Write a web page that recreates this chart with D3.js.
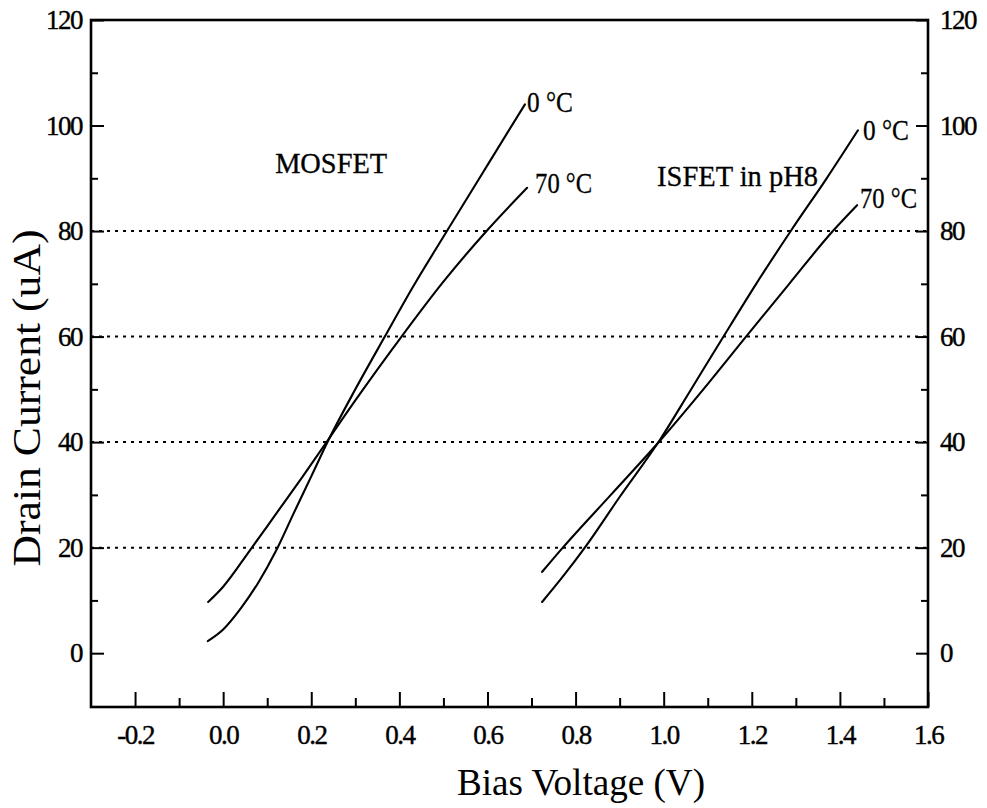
<!DOCTYPE html>
<html>
<head>
<meta charset="utf-8">
<script src="https://cdn.jsdelivr.net/npm/d3@7"></script>
<style>
  html, body { margin: 0; padding: 0; background: #fff; }
  svg { display: block; }
  text { font-family: "Liberation Serif", "Times New Roman", serif; fill: #000; }
</style>
</head>
<body>
<svg id="chart" width="987" height="808"></svg>
<script>
// Drain current (uA) versus bias voltage (V) at two temperatures
const mosfet0 = [
  [-0.035, 2.3], [0.0, 4.5], [0.04, 8.5], [0.08, 13.4], [0.12, 19.4],
  [0.16, 26.5], [0.2, 33.5], [0.238, 40.2], [0.3, 50], [0.367, 60],
  [0.43, 69.3], [0.508, 80], [0.6, 92.5], [0.685, 104]
];
const mosfet70 = [
  [-0.034, 9.7], [0.0, 12.6], [0.06, 19.4], [0.12, 26.4], [0.18, 33.4],
  [0.238, 40.4], [0.3, 47.9], [0.405, 60], [0.5, 70.4], [0.6, 80.2], [0.69, 88.2]
];
const isfet0 = [
  [0.724, 9.7], [0.77, 14.4], [0.821, 20], [0.9, 29.6], [0.992, 40.5],
  [1.06, 49.7], [1.132, 59.5], [1.21, 70], [1.29, 80.2], [1.37, 90], [1.441, 99.1]
];
const isfet70 = [
  [0.724, 15.4], [0.771, 20], [0.88, 30], [0.992, 40.3], [1.09, 50],
  [1.187, 60], [1.285, 70], [1.384, 80], [1.439, 84.9]
];

const xTicks = [-0.2, 0.0, 0.2, 0.4, 0.6, 0.8, 1.0, 1.2, 1.4, 1.6];
const xMinorTicks = [-0.1, 0.1, 0.3, 0.5, 0.7, 0.9, 1.1, 1.3, 1.5];
const yTicks = [0, 20, 40, 60, 80, 100, 120];
const yMinorTicks = [10, 30, 50, 70, 90, 110];
const gridValues = [20, 40, 60, 80];

const curveLabels = [
  { text: "0 \u00B0C", at: [0.685, 104], dx: 2, dy: 8, len: 46 },
  { text: "70 \u00B0C", at: [0.69, 88.2], dx: 8, dy: 5, len: 57 },
  { text: "0 \u00B0C", at: [1.441, 99.1], dx: 5, dy: 10, len: 46 },
  { text: "70 \u00B0C", at: [1.439, 84.9], dx: 3, dy: 3, len: 57 }
];
const groupLabels = [
  { text: "MOSFET", at: [0.118, 91.0], len: 112 },
  { text: "ISFET in pH8", at: [0.985, 88.5], len: 161 }
];

const svg = d3.select("#chart");
const margin = { left: 91, top: 20, right: 59, bottom: 101 };
const W = 987 - margin.left - margin.right;
const H = 808 - margin.top - margin.bottom;

const x = d3.scaleLinear().domain([-0.3, 1.6]).range([0, W]);
const y = d3.scaleLinear().domain([-10.2, 120]).range([H, 0]);

const g = svg.append("g").attr("transform", `translate(${margin.left},${margin.top})`);

// dotted horizontal reference lines
g.append("g").selectAll("line").data(gridValues).join("line")
  .attr("x1", 0).attr("x2", W)
  .attr("y1", d => y(d)).attr("y2", d => y(d))
  .attr("stroke", "#000").attr("stroke-width", 2)
  .attr("stroke-dasharray", "3,5");

// plain hyphen for negative values
const fmtX = d => d3.format(".1f")(d).replace("\u2212", "-");

function styleAxis(sel) {
  sel.select(".domain").remove();
  sel.selectAll(".tick line").attr("stroke", "#000").attr("stroke-width", 2);
  sel.selectAll(".tick text")
    .attr("font-size", 27)
    .attr("letter-spacing", "-1.5px")
    .attr("stroke", "#000")
    .attr("stroke-width", 0.4)
    .attr("fill", "#000");
}

// bottom axis: major ticks with labels, minor ticks without
g.append("g").attr("transform", `translate(0,${H})`)
  .call(d3.axisBottom(x).tickValues(xTicks).tickFormat(fmtX).tickSize(-15).tickPadding(18))
  .call(styleAxis);
g.append("g").attr("transform", `translate(0,${H})`)
  .call(d3.axisBottom(x).tickValues(xMinorTicks).tickFormat("").tickSize(-9))
  .call(styleAxis);

// left axis
g.append("g")
  .call(d3.axisLeft(y).tickValues(yTicks).tickSize(-13).tickPadding(9))
  .call(styleAxis);
g.append("g")
  .call(d3.axisLeft(y).tickValues(yMinorTicks).tickFormat("").tickSize(-7))
  .call(styleAxis);

// right axis
g.append("g").attr("transform", `translate(${W},0)`)
  .call(d3.axisRight(y).tickValues(yTicks).tickSize(-12).tickPadding(12))
  .call(styleAxis);
g.append("g").attr("transform", `translate(${W},0)`)
  .call(d3.axisRight(y).tickValues(yMinorTicks).tickFormat("").tickSize(-7))
  .call(styleAxis);

// plot frame
g.append("rect")
  .attr("x", 0).attr("y", 0).attr("width", W).attr("height", H)
  .attr("fill", "none").attr("stroke", "#000").attr("stroke-width", 2.6);

// curves
const line = d3.line()
  .x(d => x(d[0])).y(d => y(d[1]))
  .curve(d3.curveMonotoneX);

[mosfet0, mosfet70, isfet0, isfet70].forEach(series => {
  g.append("path").datum(series)
    .attr("d", line)
    .attr("fill", "none")
    .attr("stroke", "#000")
    .attr("stroke-width", 2.1)
    .attr("stroke-linecap", "round");
});

// temperature labels at the curve ends
g.append("g").selectAll("text").data(curveLabels).join("text")
  .attr("x", d => x(d.at[0]) + d.dx)
  .attr("y", d => y(d.at[1]) + d.dy)
  .attr("font-size", 30)
  .attr("stroke", "#000").attr("stroke-width", 0.3)
  .attr("textLength", d => d.len)
  .attr("lengthAdjust", "spacingAndGlyphs")
  .text(d => d.text);

// device labels
g.append("g").selectAll("text").data(groupLabels).join("text")
  .attr("x", d => x(d.at[0]))
  .attr("y", d => y(d.at[1]))
  .attr("font-size", 30)
  .attr("stroke", "#000").attr("stroke-width", 0.3)
  .attr("textLength", d => d.len)
  .attr("lengthAdjust", "spacingAndGlyphs")
  .text(d => d.text);

// axis titles
svg.append("text")
  .attr("x", 581).attr("y", 795)
  .attr("text-anchor", "middle")
  .attr("font-size", 37)
  .attr("textLength", 248)
  .attr("lengthAdjust", "spacingAndGlyphs")
  .text("Bias Voltage (V)");

svg.append("text")
  .attr("transform", "translate(40,398) rotate(-90)")
  .attr("text-anchor", "middle")
  .attr("font-size", 39)
  .attr("textLength", 337)
  .attr("lengthAdjust", "spacingAndGlyphs")
  .text("Drain Current (uA)");
</script>
</body>
</html>
